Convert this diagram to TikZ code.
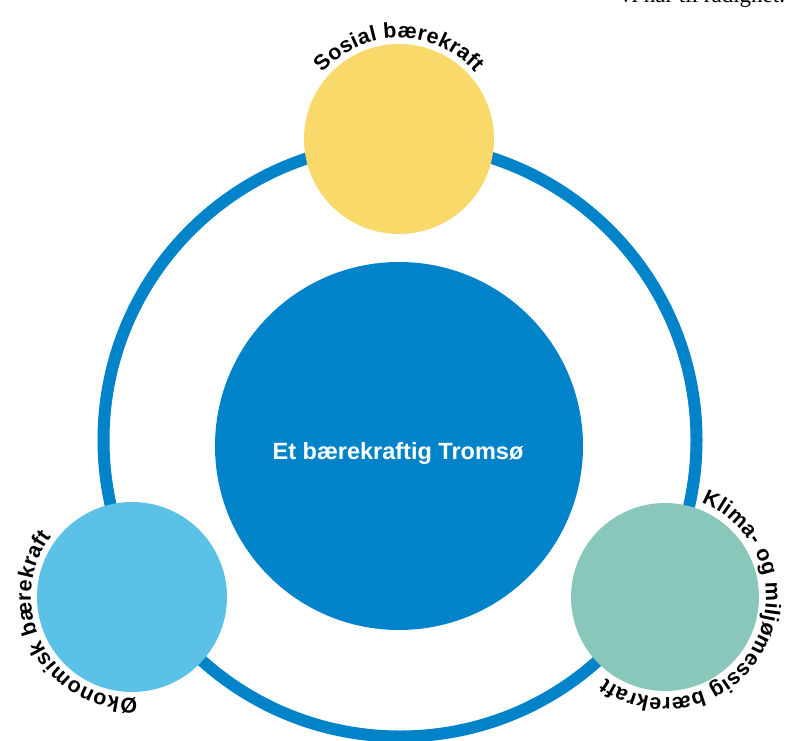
\documentclass[tikz,border=0pt]{standalone}
\usepackage{fontspec}
\usetikzlibrary{decorations.text}
\newfontfamily\lblfont{Liberation Sans}
\setmainfont{Liberation Serif}
\definecolor{ringblue}{HTML}{0083C9}
\definecolor{sunyellow}{HTML}{FAD96B}
\definecolor{seateal}{HTML}{89C7BB}
\definecolor{skyblue}{HTML}{5BC1E6}
\tikzset{
  disc/.style={circle, inner sep=0pt, minimum size=#1},
  arclabel/.style={decorate, decoration={text along path, text align=fit to path,
     text format delimiters={|}{|}, text={|\lblfont\bfseries\fontsize{21.5}{21.5}\selectfont|#1}}}
}
\begin{document}
\begin{tikzpicture}[x=1pt,y=1pt]
\useasboundingbox (0,0) rectangle (789,740);
\clip (0,0) rectangle (789,740);
% cut-off text at top
\node[anchor=base west, inner sep=0pt, font=\fontsize{23}{23}\selectfont] (toptext) at (620,737) {vi har til rådighet.};
% ring
\node[disc=593pt, draw=ringblue, line width=12pt] (ring) at (400,300) {};
% central circle
\node[disc=368pt, fill=ringblue] (core) at (399,294) {};
\node[anchor=base, text=white, font=\lblfont\bfseries\fontsize{23.5}{23.5}\selectfont] (coretext) at (398,281) {Et bærekraftig Tromsø};
% outer circles
\node[disc=190pt, fill=sunyellow] (social) at (399,601) {};
\node[disc=188pt, fill=seateal] (climate) at (665,143) {};
\node[disc=190pt, fill=skyblue] (economic) at (132,143) {};
% curved labels
\path[arclabel={Sosial bærekraft}] ([shift={(399,601)}]139:101) arc[start angle=139, end angle=41, radius=101];
\path[arclabel={Klima- og miljømessig bærekraft}] ([shift={(665,143)}]69:101) arc[start angle=69, end angle=-126, radius=101];
\path[arclabel={Økonomisk bærekraft}] ([shift={(132,143)}]-87:101) arc[start angle=-87, end angle=-217, radius=101];
\end{tikzpicture}
\end{document}
